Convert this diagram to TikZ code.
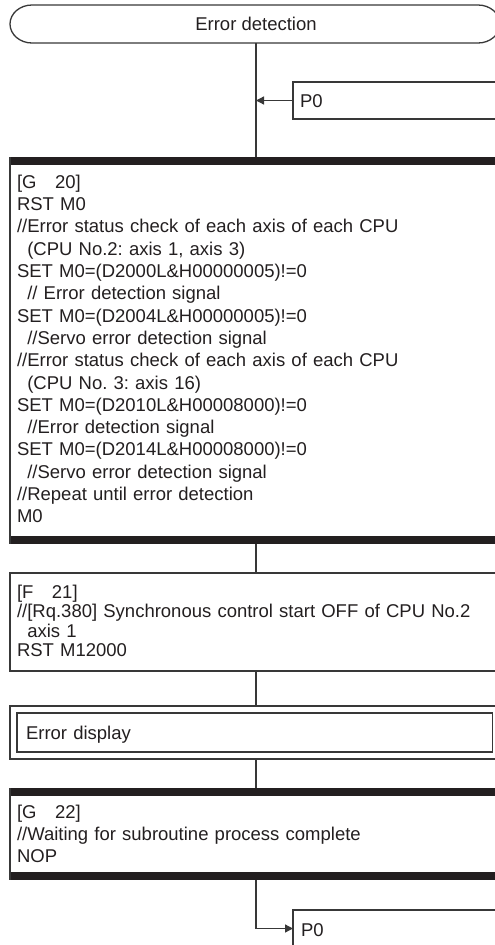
\documentclass[tikz,border=0pt]{standalone}
\usepackage{fontspec}
\setmainfont{Liberation Sans}
\usetikzlibrary{arrows.meta}
\definecolor{ink}{HTML}{231F20}
\definecolor{linec}{HTML}{383838}
\frenchspacing
\begin{document}
\begin{tikzpicture}[x=1pt,y=-1pt,
  ln/.style={draw=linec,line width=1.3pt},
  frame/.style={draw=linec,line width=1.3pt,rectangle,inner sep=0pt,outer sep=0pt,anchor=north west},
  blk/.style={draw=none,rectangle,inner sep=0pt,outer sep=0pt,anchor=north west},
  txt/.style={anchor=base west,inner sep=0pt,outer sep=0pt,text=ink,text width=470pt,align=left,font=\fontsize{18.5}{22.3}\selectfont},
  txtF/.style={txt,font=\fontsize{18.5}{19.5}\selectfont},
  arr/.style={draw=linec,line width=1.3pt,-{Triangle[length=8pt,width=8pt]}}
]
\useasboundingbox (0,0) rectangle (495,945);
\clip (0,0) rectangle (495,945);

% terminal
\node[inner sep=0pt,outer sep=0pt,minimum width=490pt,minimum height=38pt,text=ink,font=\fontsize{18.5}{22.3}\selectfont] (start) at (256,24) {Error detection};
\draw[ln] (32,5) -- (478,5) arc[start angle=90,end angle=-90,x radius=22pt,y radius=19pt] -- (32,43) arc[start angle=270,end angle=90,x radius=22pt,y radius=19pt] -- cycle;

% P0 label box (top)
\node[frame,minimum width=220pt,minimum height=37pt] (p0a) at (293,82) {};
\node[txt] (p0at) at (300,107) {P0};

% G20
\node[blk,minimum width=500pt,minimum height=387pt] (g20) at (10,157) {};
\fill[ink] (g20.north west) rectangle ([yshift=-8.3pt]g20.north east);
\fill[ink] ([yshift=8.3pt]g20.south west) rectangle (g20.south east);
\draw[ln] (g20.north west) -- (g20.south west);
\node[txt] (g20t) at (17,188.3) {[G~~~20]\\
RST M0\\
//Error status check of each axis of each CPU\\
\hspace*{10.3pt}(CPU No.2: axis 1, axis 3)\\
SET M0=(D2000L\&H00000005)!=0\\
\hspace*{10.3pt}// Error detection signal\\
SET M0=(D2004L\&H00000005)!=0\\
\hspace*{10.3pt}//Servo error detection signal\\
//Error status check of each axis of each CPU\\
\hspace*{10.3pt}(CPU No. 3: axis 16)\\
SET M0=(D2010L\&H00008000)!=0\\
\hspace*{10.3pt}//Error detection signal\\
SET M0=(D2014L\&H00008000)!=0\\
\hspace*{10.3pt}//Servo error detection signal\\
//Repeat until error detection\\
M0};

% F21
\node[frame,minimum width=500pt,minimum height=98pt] (f21) at (10,573) {};
\node[txtF] (f21t) at (17,598) {[F~~~21]\\
//[Rq.380] Synchronous control start OFF of CPU No.2\\
\hspace*{10.3pt}axis 1\\
RST M12000};

% Error display (subroutine call)
\node[frame,minimum width=500pt,minimum height=53pt] (ed) at (10,706) {};
\node[frame,minimum width=475.7pt,minimum height=39pt] (edi) at (17,713) {};
\node[txt] (edt) at (26,739.6) {Error display};

% G22
\node[blk,minimum width=500pt,minimum height=92pt] (g22) at (10,788) {};
\fill[ink] (g22.north west) rectangle ([yshift=-8.3pt]g22.north east);
\fill[ink] ([yshift=8.3pt]g22.south west) rectangle (g22.south east);
\draw[ln] (g22.north west) -- (g22.south west);
\node[txt] (g22t) at (17,818.3) {[G~~~22]\\
//Waiting for subroutine process complete\\
NOP};

% P0 jump box (bottom)
\node[frame,minimum width=220pt,minimum height=37pt] (p0b) at (293,910) {};
\node[txt] (p0bt) at (301,936.6) {P0};

% connectors
\draw[ln] (start.south) -- (start.south |- g20.north);
\draw[arr] (p0a.west) -- (p0a.west -| start.south);
\draw[ln] (start.south |- g20.south) -- (start.south |- f21.north);
\draw[ln] (start.south |- f21.south) -- (start.south |- ed.north);
\draw[ln] (start.south |- ed.south) -- (start.south |- g22.north);
\draw[arr] (start.south |- g22.south) |- (p0b.west);
\end{tikzpicture}
\end{document}
